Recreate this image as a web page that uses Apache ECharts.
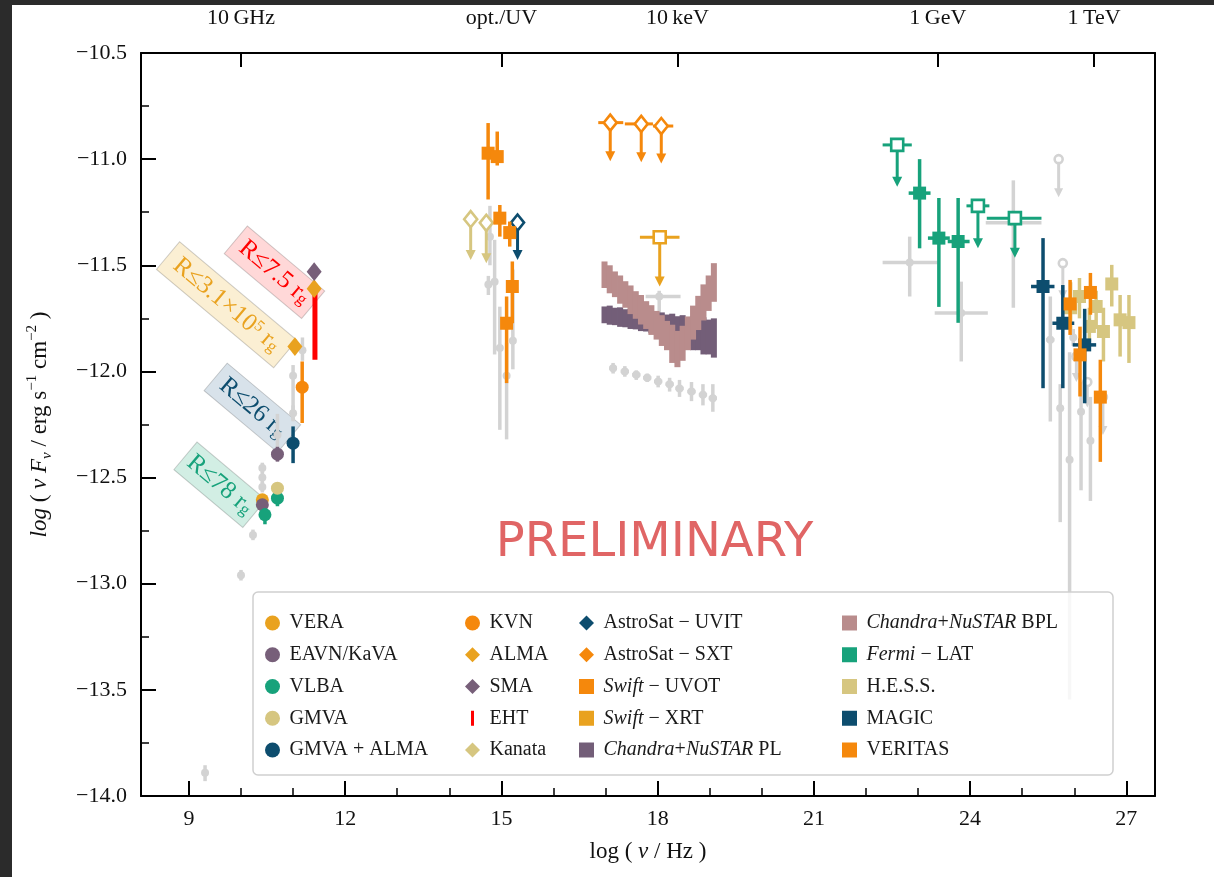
<!DOCTYPE html>
<html><head><meta charset="utf-8">
<script src="https://cdn.jsdelivr.net/npm/echarts@6/dist/echarts.min.js"></script>
<style>
html,body{margin:0;padding:0;background:#fff;}
#chart{position:absolute;left:0;top:0;width:1214px;height:877px;background:#fff;}
.strip{position:absolute;background:#2b2b2b;pointer-events:none;}
</style></head>
<body>
<div id="chart"></div>
<div class="strip" style="left:0;top:0;width:12px;height:877px"></div>
<div class="strip" style="left:0;top:0;width:1214px;height:5px"></div>
<script>
// ---------------- DATA (log nu [Hz], log nuFnu [erg/s/cm2]) ----------------
// rows: [x, y, errTop, errBottom, xLow, xHigh]
const VERA      = [[10.41, -12.605, -12.585, -12.625]];
const EAVN      = [[10.70, -12.39, -12.355, -12.425], [10.41, -12.628, -12.61, -12.645]];
const VLBA      = [[10.70, -12.597, -12.565, -12.635], [10.46, -12.675, -12.645, -12.72]];
const GMVA      = [[10.70, -12.55, -12.525, -12.575]];
const GMVA_ALMA = [[11.0, -12.338, -12.259, -12.432]];
const KVN       = [[11.175, -12.074, -11.953, -12.243]];
const ALMA      = [[11.035, -11.883], [11.405, -11.61]];
const SMA       = [[11.405, -11.53]];
// EHT: [x, top, bottom]
const EHT       = [[11.42, -11.625, -11.945]];
// upper limits: [x, y, arrowTip, xLow, xHigh]
const KANATA_UL = [[14.41, -11.283, -11.475, 14.30, 14.52], [14.71, -11.30, -11.49, 14.60, 14.80]];
const UVIT_UL   = [[15.31, -11.299, -11.475]];
const SXT_UL    = [[17.09, -10.828, -11.01, 16.86, 17.34], [17.685, -10.834, -11.015, 17.37, 17.91], [18.07, -10.844, -11.02, 17.91, 18.30]];
const UVOT      = [[14.745, -10.972, -10.83, -11.19], [14.92, -10.988, -10.87, -11.03], [14.97, -11.278, -11.216, -11.365],
                   [15.16, -11.346, -11.294, -11.412], [15.21, -11.60, -11.482, -11.773], [15.10, -11.773, -11.647, -12.055]];
const XRT_UL    = [[18.04, -11.368, -11.60, 17.66, 18.42]];
// butterfly bins: [x, top, bottom]
const CN_PL  = [[16.98,-11.694,-11.773],[17.08,-11.690,-11.780],[17.18,-11.700,-11.782],[17.28,-11.698,-11.790],[17.38,-11.707,-11.792],
                [17.48,-11.705,-11.800],[17.58,-11.714,-11.802],[17.68,-11.712,-11.810],[17.78,-11.720,-11.812],[17.88,-11.718,-11.820],
                [17.98,-11.726,-11.822],[18.08,-11.722,-11.835],[18.18,-11.732,-11.840],[18.28,-11.728,-11.855],[18.38,-11.740,-11.860],
                [18.48,-11.735,-11.880],[18.58,-11.746,-11.880],[18.68,-11.740,-11.900],[18.78,-11.752,-11.900],[18.88,-11.745,-11.920],
                [18.98,-11.756,-11.920],[19.08,-11.750,-11.935]];
const CN_BPL = [[16.98,-11.482,-11.607],[17.08,-11.500,-11.632],[17.18,-11.529,-11.650],[17.28,-11.548,-11.681],[17.38,-11.575,-11.700],
                [17.48,-11.595,-11.730],[17.58,-11.622,-11.752],[17.68,-11.640,-11.779],[17.78,-11.669,-11.800],[17.88,-11.688,-11.828],
                [17.98,-11.715,-11.850],[18.08,-11.735,-11.880],[18.18,-11.762,-11.900],[18.28,-11.780,-11.960],[18.38,-11.809,-11.980],
                [18.48,-11.785,-11.950],[18.58,-11.741,-11.900],[18.68,-11.690,-11.850],[18.78,-11.644,-11.805],[18.88,-11.590,-11.760],
                [18.98,-11.548,-11.715],[19.08,-11.490,-11.672]];
const FERMI     = [[23.03, -11.16, -11.00, -11.42, 22.82, 23.24], [23.40, -11.372, -11.183, -11.696, 23.19, 23.61],
                   [23.77, -11.388, -11.183, -11.771, 23.57, 23.99]];
const FERMI_UL  = [[22.60, -10.933, -11.13, 22.32, 22.88], [24.15, -11.22, -11.42, 23.93, 24.37], [24.86, -11.278, -11.465, 24.32, 25.37]];
const HESS      = [[25.93, -11.70, -11.58, -11.80], [26.10, -11.647, -11.56, -11.75], [26.72, -11.588, -11.498, -11.694],
                   [26.42, -11.694, -11.62, -11.80], [26.29, -11.788, -11.70, -11.86], [26.56, -11.812, -11.70, -11.953],
                   [26.88, -11.757, -11.64, -11.93], [27.05, -11.77, -11.64, -11.96]];
const MAGIC     = [[25.40, -11.60, -11.372, -12.079, 25.17, 25.62], [25.78, -11.773, -11.593, -12.079, 25.58, 26.00],
                   [26.20, -11.875, -11.705, -12.15, 25.97, 26.42]];
const VERITAS   = [[25.92, -11.682, -11.569, -11.828], [26.31, -11.628, -11.536, -11.733], [26.11, -11.922, -11.789, -12.118],
                   [26.50, -12.121, -11.945, -12.426]];
// archival (grey)
const ARCHIVAL = [
  [9.31,-13.89,-13.855,-13.93],[10.0,-12.96,-12.935,-12.985],[10.23,-12.77,-12.745,-12.795],[10.41,-12.455,-12.43,-12.48],
  [10.41,-12.50,-12.475,-12.525],[10.41,-12.545,-12.52,-12.57],[10.70,-12.30,-12.20,-12.39],[11.0,-12.02,-11.97,-12.23],
  [11.0,-12.197,-12.16,-12.235],[11.18,-11.90,-11.84,-11.95],
  [14.78,-11.365,-11.22,-11.50],[14.75,-11.59,-11.55,-11.64],[14.87,-11.577,-11.38,-11.92],[14.97,-11.89,-11.695,-12.275],
  [15.22,-11.856,-11.52,-11.99],[15.10,-12.02,-11.865,-12.32],
  [17.145,-11.985,-11.96,-12.01,17.07,17.22],[17.37,-12.0,-11.975,-12.025,17.29,17.45],[17.59,-12.016,-11.995,-12.04,17.51,17.67],
  [17.80,-12.03,-12.01,-12.05,17.72,17.88],[18.01,-12.047,-12.02,-12.075,17.93,18.09],[18.23,-12.06,-12.03,-12.095,18.15,18.31],
  [18.42,-12.08,-12.04,-12.12,18.34,18.50],[18.65,-12.095,-12.05,-12.14,18.57,18.73],[18.87,-12.11,-12.06,-12.16,18.79,18.95],
  [19.06,-12.126,-12.06,-12.19,18.98,19.14],[18.03,-11.647,-11.62,-11.74,17.77,18.44],
  [22.84,-11.487,-11.365,-11.647,22.32,23.38],[23.83,-11.725,-11.577,-11.953,23.32,24.34],[24.83,-11.30,-11.10,-11.70,24.30,25.37],
  [25.54,-11.851,-11.647,-12.236,25.46,25.62],[25.73,-12.173,-12.06,-12.71],[25.91,-12.416,-11.91,-13.546],
  [26.13,-12.19,-12.05,-12.56],[26.31,-12.327,-12.12,-12.61],[25.98,-11.84,-11.80,-11.88]
];
const ARCHIVAL_UL = [[25.70,-11.00,-11.18],[25.78,-11.49,-11.66],[26.04,-11.93,-12.05],[26.25,-12.05,-12.17],[26.55,-12.12,-12.30]];

// tick labels
const X_TICKS = [9, 12, 15, 18, 21, 24, 27];
const X_MINOR = [9,10,11,12,13,14,15,16,17,18,19,20,21,22,23,24,25,26,27];
const TOP_TICKS = [10, 15, 18.38, 23.38, 26.38];
const TOP_LABELS = ['10\u2009GHz', 'opt./UV', '10\u2009keV', '1\u2009GeV', '1\u2009TeV'];
const ANNOT_TEXT = ['{a|R≤7.5 r}{s|g}', '{a|R≤3.1×10}{p|5}{a| r}{s|g}', '{a|R≤26 r}{s|g}', '{a|R≤78 r}{s|g}'];

// ---------------- STYLE ----------------
const SERIF = '"Liberation Serif","DejaVu Serif",serif';
const C = {gold:'#E9A21F', orange:'#F5880C', purple:'#775F79', green:'#17A27B', khaki:'#D6C680',
           navy:'#0D4D6E', red:'#FF0000', mauve:'#B98C8C', plum:'#735E78', gray:'#D3D3D3'};

function ln(x1,y1,x2,y2,color,w){ return {type:'line', shape:{x1,y1,x2,y2}, style:{stroke:color, lineWidth:w}}; }
function head(x,y,color,s){ return {type:'polygon', shape:{points:[[x-s/2,y-s],[x+s/2,y-s],[x,y]]}, style:{fill:color}}; }
function mark(shape,cx,cy,s,color,hollow){
  const style = hollow ? {fill:'#fff', stroke:color, lineWidth:2.6} : {fill:color};
  if (shape==='circle') return {type:'circle', shape:{cx,cy,r:s/2}, style};
  if (shape==='diamond') return {type:'polygon', shape:{points:[[cx,cy-s*0.62],[cx+s/2,cy],[cx,cy+s*0.62],[cx-s/2,cy]]}, style};
  return {type:'rect', shape:{x:cx-s/2,y:cy-s/2,width:s,height:s}, style};
}
function errSeries(name, rows, shape, color, size, lw){
  return {type:'custom', name, itemStyle:{color}, data: rows.map(r=>[r[0],r[1]]), encode:{x:0,y:1},
    renderItem(p, api){
      const r = rows[p.dataIndex], c = api.coord([r[0],r[1]]), ch = [];
      if (r[2]!=null){ const a=api.coord([r[0],r[2]]), b=api.coord([r[0],r[3]]); ch.push(ln(a[0],a[1],b[0],b[1],color,lw)); }
      if (r[4]!=null){ const a=api.coord([r[4],r[1]]), b=api.coord([r[5],r[1]]); ch.push(ln(a[0],a[1],b[0],b[1],color,lw)); }
      ch.push(mark(shape,c[0],c[1],size,color,false));
      return {type:'group', children:ch};
    }};
}
function ulSeries(name, rows, shape, color, size, lw, hs, filled){
  return {type:'custom', name, itemStyle:{color}, data: rows.map(r=>[r[0],r[1]]), encode:{x:0,y:1},
    renderItem(p, api){
      const r = rows[p.dataIndex], c = api.coord([r[0],r[1]]), t = api.coord([r[0],r[2]]), ch = [];
      if (r[3]!=null){ const a=api.coord([r[3],r[1]]), b=api.coord([r[4],r[1]]); ch.push(ln(a[0],a[1],b[0],b[1],color,lw)); }
      ch.push(ln(c[0],c[1],c[0],t[1]-hs+1,color,lw));
      ch.push(head(c[0],t[1],color,hs));
      ch.push(mark(shape,c[0],c[1],size,color,!filled));
      return {type:'group', children:ch};
    }};
}
function bandSeries(name, rows, color){
  return {type:'custom', name, itemStyle:{color}, data: rows.map(r=>[r[0],(r[1]+r[2])/2]), encode:{x:0,y:1},
    renderItem(p, api){
      const r = rows[p.dataIndex], a = api.coord([r[0]-0.05,r[1]]), b = api.coord([r[0]+0.05,r[2]]);
      return {type:'rect', shape:{x:a[0]-0.4,y:a[1],width:b[0]-a[0]+0.8,height:b[1]-a[1]}, style:{fill:color}};
    }};
}
function barSeries(name, rows, color, w){
  return {type:'custom', name, itemStyle:{color}, data: rows.map(r=>[r[0],r[1]]), encode:{x:0,y:1},
    renderItem(p, api){
      const r = rows[p.dataIndex], a = api.coord([r[0],r[1]]), b = api.coord([r[0],r[2]]);
      return ln(a[0],a[1],b[0],b[1],color,w);
    }};
}

const series = [
  errSeries('archival', ARCHIVAL, 'circle', C.gray, 8, 3.5),
  ulSeries('archival UL', ARCHIVAL_UL, 'circle', C.gray, 8, 3, 9, false),
  bandSeries('Chandra+NuSTAR PL', CN_PL, C.plum),
  bandSeries('Chandra+NuSTAR BPL', CN_BPL, C.mauve),
  ulSeries('AstroSat − SXT', SXT_UL, 'diamond', C.orange, 13, 3, 10, false),
  ulSeries('Swift − XRT', XRT_UL, 'rect', C.gold, 12, 3, 10, false),
  ulSeries('Kanata', KANATA_UL, 'diamond', C.khaki, 13, 3, 10, false),
  ulSeries('AstroSat − UVIT', UVIT_UL, 'diamond', C.navy, 13, 3, 10, false),
  errSeries('Swift − UVOT', UVOT, 'rect', C.orange, 13, 3.5),
  ulSeries('Fermi − LAT', FERMI_UL, 'rect', C.green, 12, 3, 10, false),
  errSeries('Fermi − LAT', FERMI, 'rect', C.green, 13, 3.5),
  errSeries('H.E.S.S.', HESS, 'rect', C.khaki, 13, 3.5),
  errSeries('MAGIC', MAGIC, 'rect', C.navy, 13, 3.5),
  errSeries('VERITAS', VERITAS, 'rect', C.orange, 13, 3.5),
  barSeries('EHT', EHT, C.red, 5),
  errSeries('VERA', VERA, 'circle', C.gold, 13, 3.5),
  errSeries('EAVN/KaVA', EAVN, 'circle', C.purple, 13, 3.5),
  errSeries('VLBA', VLBA, 'circle', C.green, 13, 3.5),
  errSeries('GMVA', GMVA, 'circle', C.khaki, 13, 3.5),
  errSeries('GMVA + ALMA', GMVA_ALMA, 'circle', C.navy, 13, 3.5),
  errSeries('KVN', KVN, 'circle', C.orange, 13, 3.5),
  errSeries('ALMA', ALMA, 'diamond', C.gold, 15, 3.5),
  errSeries('SMA', SMA, 'diamond', C.purple, 15, 3.5)
];
series.forEach(s=>{ s.animation=false; });

const ICON = {circle:'circle', diamond:'path://M10,0L20,10L10,20L0,10Z', square:'path://M0,0H10V10H0Z', bar:'path://M0,0H2V10H0Z'};
const legendCols = [
  [['VERA','circle'],['EAVN/KaVA','circle'],['VLBA','circle'],['GMVA','circle'],['GMVA + ALMA','circle']],
  [['KVN','circle'],['ALMA','diamond'],['SMA','diamond'],['EHT','bar'],['Kanata','diamond']],
  [['AstroSat − UVIT','diamond'],['AstroSat − SXT','diamond'],['Swift − UVOT','square'],['Swift − XRT','square'],['Chandra+NuSTAR PL','square']],
  [['Chandra+NuSTAR BPL','square'],['Fermi − LAT','square'],['H.E.S.S.','square'],['MAGIC','square'],['VERITAS','square']]
];
const legendLeft = [260, 460, 574, 837];
const legendColor = {'Kanata':C.khaki,'AstroSat − UVIT':C.navy,'AstroSat − SXT':C.orange,'Swift − XRT':C.gold,'Fermi − LAT':C.green};
const legends = legendCols.map((col,i)=>({
  orient:'vertical', left: legendLeft[i], top: 607, itemWidth: 24, itemHeight: 15, itemGap: 9.75, selectedMode:false,
  data: col.map(([n,ic])=>{ const d={name:n, icon:ICON[ic]}; if (legendColor[n]) d.itemStyle={color:legendColor[n], borderWidth:0}; return d; }),
  formatter: n => n.replace(/(Swift|Fermi|Chandra|NuSTAR)/g, '{i|$1}'),
  textStyle:{fontFamily:SERIF, fontSize:20, color:'#1a1a1a', lineHeight:22,
             rich:{i:{fontFamily:SERIF, fontSize:20, fontStyle:'italic', color:'#1a1a1a', lineHeight:22}}}
}));

const axisLine = {show:true, lineStyle:{color:'#000', width:2}};
const labelStyle = {fontFamily:SERIF, fontSize:22, color:'#111'};
const XMIN = 8.08, XMAX = 27.55;

const option = {
  animation:false,
  backgroundColor:'#fff',
  grid:{left:141, top:53, width:1014, height:743, containLabel:false},
  legend: legends,
  xAxis:[
    {type:'value', position:'bottom', min:XMIN, max:XMAX, axisLine, splitLine:{show:false},
     axisTick:{show:true, inside:true, length:15, lineStyle:{color:'#000', width:2}, customValues:X_TICKS},
     axisLabel:Object.assign({customValues:X_TICKS, margin:12, formatter:v=>String(Math.round(v))}, labelStyle),
     name:'log ( {i|ν} / Hz )', nameLocation:'middle', nameGap:44,
     nameTextStyle:{fontFamily:SERIF, fontSize:23, color:'#111', rich:{i:{fontFamily:SERIF, fontSize:23, fontStyle:'italic', color:'#111'}}}},
    {type:'value', position:'bottom', offset:0, min:XMIN, max:XMAX, axisLine:{show:false}, splitLine:{show:false},
     axisTick:{show:true, inside:true, length:8, lineStyle:{color:'#000', width:1.5}, customValues:X_MINOR},
     axisLabel:{show:false}},
    {type:'value', position:'top', offset:0, min:XMIN, max:XMAX, axisLine, splitLine:{show:false},
     axisTick:{show:true, inside:true, length:14, lineStyle:{color:'#000', width:2}, customValues:TOP_TICKS},
     axisLabel:Object.assign({customValues:TOP_TICKS, margin:24, formatter:v=>TOP_LABELS[TOP_TICKS.indexOf(v)]||''}, labelStyle)}
  ],
  yAxis:[
    {type:'value', position:'left', min:-14, max:-10.5, interval:0.5, axisLine, splitLine:{show:false},
     axisTick:{show:true, inside:true, length:15, lineStyle:{color:'#000', width:2}},
     minorTick:{show:true, splitNumber:2, length:8, lineStyle:{color:'#000', width:1.5}},
     minorSplitLine:{show:false},
     axisLabel:Object.assign({margin:14, formatter:v=>'\u2212'+Math.abs(v).toFixed(1)}, labelStyle),
     name:'{i|log} ( {i|ν F}{s|ν} / erg s{p|−1} cm{p|−2} )', nameLocation:'middle', nameGap:86, nameRotate:90,
     nameTextStyle:{fontFamily:SERIF, fontSize:23, color:'#111', lineHeight:30,
       rich:{i:{fontFamily:SERIF, fontSize:23, fontStyle:'italic', color:'#111', lineHeight:30},
             s:{fontFamily:SERIF, fontSize:15, fontStyle:'italic', color:'#111', lineHeight:30, verticalAlign:'bottom'},
             p:{fontFamily:SERIF, fontSize:15, color:'#111', lineHeight:30, verticalAlign:'top'}}}},
    {type:'value', position:'right', min:-14, max:-10.5, interval:0.5, axisLine, splitLine:{show:false},
     axisTick:{show:false}, axisLabel:{show:false}}
  ],
  series: series.map(s=>Object.assign(s,{xAxisIndex:0, yAxisIndex:0}))
};

const chart = echarts.init(document.getElementById('chart'));
chart.setOption(option);

// annotations placed in data space
const ANNOT_POS = [[10.643,-11.533],[9.724,-11.686],[10.219,-12.171],[9.595,-12.534]];
const ANNOT_W = [101, 153, 96, 90];
const ANNOT_COL = [C.red, C.gold, C.navy, C.green];
const ANNOT_FILL = ['rgba(255,90,90,0.24)','rgba(238,190,80,0.25)','rgba(60,110,150,0.2)','rgba(30,170,120,0.2)'];
const toPx = p => chart.convertToPixel({gridIndex:0}, p);
const graphics = ANNOT_TEXT.map((t,i)=>{
  const p = toPx(ANNOT_POS[i]);
  return {type:'group', x:p[0], y:p[1], rotation:-40*Math.PI/180, z:1, children:[
    {type:'rect', shape:{x:-ANNOT_W[i]/2, y:-18, width:ANNOT_W[i], height:36},
     style:{fill:ANNOT_FILL[i], stroke:'rgba(0,0,0,0.18)', lineWidth:1}},
    {type:'text', x:0, y:0, style:{text:t, x:0, y:0, align:'center', verticalAlign:'middle', fill:ANNOT_COL[i],
      rich:{a:{fontFamily:SERIF, fontSize:25, fill:ANNOT_COL[i], color:ANNOT_COL[i], lineHeight:24},
            s:{fontFamily:SERIF, fontSize:17, fill:ANNOT_COL[i], color:ANNOT_COL[i], lineHeight:24, verticalAlign:'bottom'},
            p:{fontFamily:SERIF, fontSize:16, fill:ANNOT_COL[i], color:ANNOT_COL[i], lineHeight:24, verticalAlign:'top'}}}}
  ]};
});
const pre = toPx([17.94, -12.81]);
graphics.push({type:'text', x:pre[0], y:pre[1], z:1, style:{text:'PRELIMINARY', x:0, y:0, align:'center', verticalAlign:'middle',
  font:'48px "DejaVu Sans", sans-serif', fill:'#E06565'}});
graphics.push({type:'rect', z:3, shape:{x:253, y:592, width:860, height:183, r:5},
  style:{fill:'rgba(255,255,255,0.82)', stroke:'#cfcfcf', lineWidth:1.5}});
chart.setOption({graphic:graphics});
</script>
</body></html>
